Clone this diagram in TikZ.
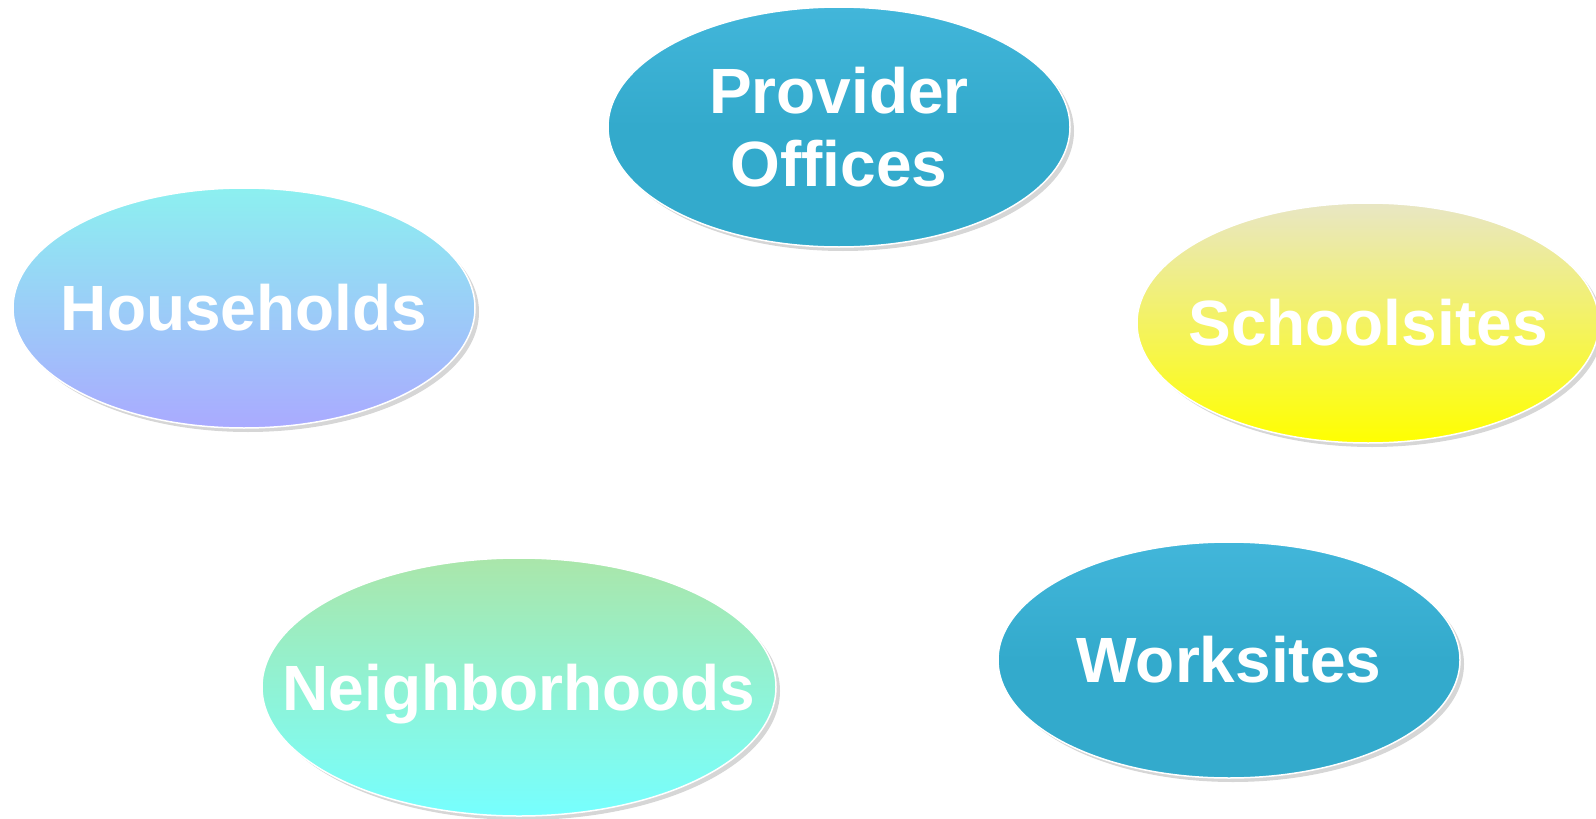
\documentclass[tikz,border=0pt]{standalone}
\usepackage{fontspec}
\setmainfont{Liberation Sans}
\usepackage{tikz}
\usetikzlibrary{shapes.geometric,shadows}

\definecolor{teal}{RGB}{51,170,204}
\definecolor{tealtop}{RGB}{66,182,218}

\begin{document}
\begin{tikzpicture}[x=1pt,y=-1pt]
\tikzstyle{every node}=[]
\tikzstyle{blob}=[ellipse,inner sep=0pt,draw=white,line width=1.5pt,
  drop shadow={shadow xshift=4pt,shadow yshift=-4pt,opacity=0.16,fill=black}]
\tikzstyle{lbl}=[text=white,align=center,inner sep=0pt,
  font=\bfseries\fontsize{64}{73}\selectfont]
\tikzstyle{small}=[minimum width=462pt,minimum height=240pt]
 \useasboundingbox (0,0) rectangle (1596,819);
 \node[blob,small,top color=tealtop,bottom color=teal,middle color=teal,
   label={[lbl]center:Provider\\Offices}]
   (P) at (839,127) {};
 \node[blob,small,top color={rgb,255:red,140;green,240;blue,240},
   bottom color={rgb,255:red,170;green,170;blue,255},
   label={[lbl]center:Households}]
   (H) at (244,308) {};
 \node[blob,small,top color={rgb,255:red,232;green,230;blue,196},
   bottom color={rgb,255:red,255;green,255;blue,0},
   label={[lbl]center:Schoolsites}]
   (S) at (1368,323) {};
 \node[blob,minimum width=514pt,minimum height=258pt,
   top color={rgb,255:red,170;green,230;blue,170},
   bottom color={rgb,255:red,118;green,255;blue,255},
   label={[lbl,yshift=-7pt]center:Neighborhoods}]
   (N) at (519,687) {};
 \node[blob,small,minimum height=236pt,top color=tealtop,bottom color=teal,middle color=teal,
   label={[lbl]center:Worksites}]
   (W) at (1229,660) {};
\end{tikzpicture}
\end{document}
